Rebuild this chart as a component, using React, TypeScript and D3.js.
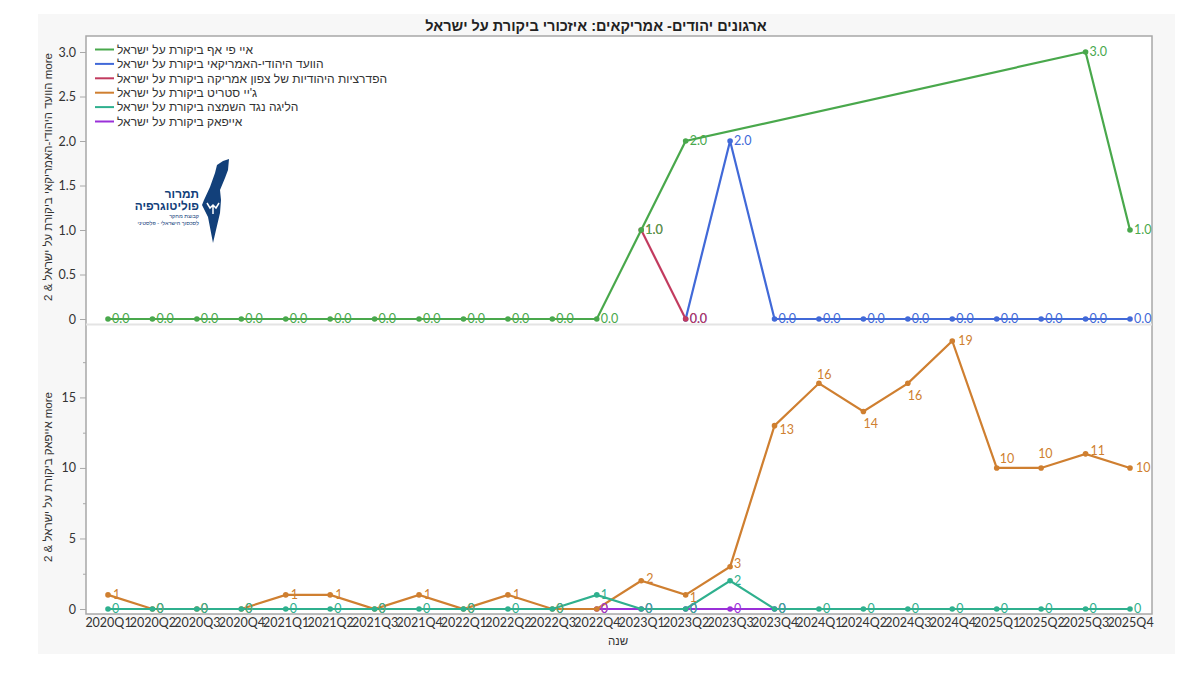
import { useRef, useEffect } from "react";
import * as d3 from "d3";

const quarters = [
  "2020Q1", "2020Q2", "2020Q3", "2020Q4", "2021Q1", "2021Q2", "2021Q3", "2021Q4",
  "2022Q1", "2022Q2", "2022Q3", "2022Q4", "2023Q1", "2023Q2", "2023Q3", "2023Q4",
  "2024Q1", "2024Q2", "2024Q3", "2024Q4", "2025Q1", "2025Q2", "2025Q3", "2025Q4",
];

// null = no value for that quarter
const adlValues = [0, 0, 0, 0, 0, 0, 0, 0, 0, 0, 0, 0, 1, 2, null, null, null, null, null, null, null, null, 3, 1];
const ajcValues = [null, null, null, null, null, null, null, null, null, null, null, null, null, 0, 2, 0, 0, 0, 0, 0, 0, 0, 0, 0];
const jfnaValues = [null, null, null, null, null, null, null, null, null, null, null, null, 1, 0, null, null, null, null, null, null, null, null, null, null];
const jstreetValues = [1, 0, 0, 0, 1, 1, 0, 1, 0, 1, 0, 0, 2, 1, 3, 13, 16, 14, 16, 19, 10, 10, 11, 10];
const leagueValues = [0, 0, 0, 0, 0, 0, 0, 0, 0, 0, 0, 1, 0, 0, 2, 0, 0, 0, 0, 0, 0, 0, 0, 0];
const aipacValues = [null, null, null, null, null, null, null, null, null, null, null, 0, 0, 0, 0, 0, null, null, null, null, null, null, null, null];

const legendNames = [
  "איי פי אף  ביקורת על ישראל",
  "הוועד היהודי-האמריקאי ביקורת על ישראל",
  "הפדרציות היהודיות של צפון אמריקה ביקורת על ישראל",
  "ג'יי סטריט ביקורת על ישראל",
  "הליגה נגד השמצה ביקורת על ישראל",
  "אייפאק ביקורת על ישראל",
];
const legendColors = ["#49a84c", "#4169d8", "#c23b5f", "#cf7f30", "#2fb08e", "#9a30d8"];

const title = "ארגונים יהודים- אמריקאים: איזכורי ביקורת על ישראל";
const upperAxisTitle = "more הוועד היהודי-האמריקאי ביקורת על ישראל & 2";
const lowerAxisTitle = "more אייפאק ביקורת על ישראל & 2";
const xAxisTitle = "שנה";

const upperTicks = [0, 0.5, 1, 1.5, 2, 2.5, 3];
const lowerTicks = [0, 5, 10, 15];
const lowerMinorTicks = [2.5, 7.5, 12.5, 17.5];

const UI_FONT = "Lato, 'Open Sans', 'Liberation Sans', sans-serif";
const HE_FONT = "'Liberation Sans', 'DejaVu Sans', sans-serif";

// label nudges for the J Street peaks, index -> [dx, dy]
const jstreetLabelOffsets: Record<number, [number, number]> = {
  0: [5, 0],
  4: [5, 0],
  5: [5, 0],
  7: [5, 0],
  9: [5, 0],
  12: [5, -2],
  13: [4, 3],
  14: [4, -3],
  15: [5, 4],
  16: [-2, -9],
  17: [0, 12],
  18: [0, 12],
  19: [6, 0],
  20: [3, -9],
  21: [-3, -14],
  22: [5, -3],
  23: [6, 0],
};

type Series = { values: (number | null)[]; color: string; fmt: string };

export default function App() {
  const svgRef = useRef<SVGSVGElement>(null);

  useEffect(() => {
    if (!svgRef.current) return;
    const svg = d3.select(svgRef.current);
    svg.selectAll("*").remove();

    // panel + frame
    svg.append("rect").attr("x", 38).attr("y", 14).attr("width", 1137).attr("height", 640).attr("fill", "#f7f7f7");
    svg.append("rect").attr("x", 86).attr("y", 36).attr("width", 1066).attr("height", 578)
      .attr("fill", "#fff").attr("stroke", "#a8a8a8").attr("stroke-width", 1.5);
    svg.append("line").attr("x1", 86).attr("x2", 1152).attr("y1", 324.5).attr("y2", 324.5)
      .attr("stroke", "#e4e4e4").attr("stroke-width", 2);

    const x = d3.scalePoint<string>().domain(quarters).range([108, 1130]);
    const yUpper = d3.scaleLinear().domain([0, 3]).range([319, 52]);
    const yLower = d3.scaleLinear().domain([0, 19]).range([609, 341]);

    // X axis
    const xAxis = svg.append("g").attr("transform", "translate(0,614)")
      .call(d3.axisBottom(x).tickSize(0).tickPadding(4));
    xAxis.select(".domain").remove();
    xAxis.selectAll("text").attr("fill", "#333").attr("font-size", "12.5px").attr("font-family", UI_FONT);

    // Y axes
    const styleAxis = (g: d3.Selection<SVGGElement, unknown, null, undefined>) => {
      g.select(".domain").remove();
      g.selectAll(".tick line").attr("stroke", "#a8a8a8");
      g.selectAll("text").attr("fill", "#333").attr("font-size", "12.5px").attr("font-family", UI_FONT);
    };
    svg.append("g").attr("transform", "translate(86,0)")
      .call(d3.axisLeft(yUpper).tickValues(upperTicks).tickSize(6).tickPadding(4)
        .tickFormat((d) => (d === 0 ? "0" : d3.format(".1f")(d as number))))
      .call(styleAxis);
    svg.append("g").attr("transform", "translate(86,0)")
      .call(d3.axisLeft(yLower).tickValues(lowerTicks).tickSize(6).tickPadding(4).tickFormat(d3.format("d")))
      .call(styleAxis);
    svg.append("g").attr("transform", "translate(86,0)")
      .call(d3.axisLeft(yLower).tickValues(lowerMinorTicks).tickSize(3).tickFormat(() => ""))
      .call(styleAxis);

    // Axis titles
    const rotated = (text: string, cx: number, cy: number) =>
      svg.append("text")
        .attr("transform", `translate(${cx},${cy}) rotate(-90)`)
        .attr("text-anchor", "middle")
        .attr("direction", "rtl")
        .attr("font-family", HE_FONT)
        .attr("font-size", "11.5px")
        .attr("fill", "#333")
        .text(text);
    rotated(upperAxisTitle, 52, 177);
    rotated(lowerAxisTitle, 52, 477);

    svg.append("text").attr("x", 618).attr("y", 645).attr("text-anchor", "middle").attr("direction", "rtl")
      .attr("font-family", HE_FONT).attr("font-size", "11.5px").attr("fill", "#333").text(xAxisTitle);

    svg.append("text").attr("x", 596).attr("y", 31).attr("text-anchor", "middle").attr("direction", "rtl")
      .attr("font-family", HE_FONT).attr("font-size", "14.5px").attr("font-weight", 700).attr("fill", "#222").text(title);

    const drawLines = (list: Series[], y: d3.ScaleLinear<number, number>) => {
      list.forEach((s) => {
        const pts = s.values
          .map((v, i) => ({ v, q: quarters[i] }))
          .filter((p) => p.v !== null) as { v: number; q: string }[];
        const line = d3.line<{ v: number; q: string }>().x((p) => x(p.q)!).y((p) => y(p.v));
        svg.append("path").attr("d", line(pts)).attr("fill", "none").attr("stroke", s.color).attr("stroke-width", 2.2);
        svg.append("g").selectAll("circle").data(pts).enter().append("circle")
          .attr("cx", (p) => x(p.q)!).attr("cy", (p) => y(p.v)).attr("r", 2.8).attr("fill", s.color);
      });
    };

    const drawLabels = (s: Series, y: d3.ScaleLinear<number, number>, offsets: Record<number, [number, number]> = {}) => {
      s.values.forEach((v, i) => {
        if (v === null) return;
        const off = offsets[i] ?? [4, 0];
        svg.append("text")
          .attr("x", x(quarters[i])! + off[0])
          .attr("y", y(v) + off[1])
          .attr("dy", "0.35em")
          .attr("font-family", UI_FONT)
          .attr("font-size", "12.5px")
          .attr("fill", s.color)
          .text(d3.format(s.fmt)(v));
      });
    };

    // Upper panel
    const adl = { values: adlValues, color: legendColors[0], fmt: ".1f" };
    const ajc = { values: ajcValues, color: legendColors[1], fmt: ".1f" };
    const jfna = { values: jfnaValues, color: legendColors[2], fmt: ".1f" };
    drawLines([ajc, jfna, adl], yUpper);
    drawLabels(ajc, yUpper);
    drawLabels(jfna, yUpper);
    drawLabels(adl, yUpper);

    // Lower panel
    const jstreet = { values: jstreetValues, color: legendColors[3], fmt: "d" };
    const league = { values: leagueValues, color: legendColors[4], fmt: "d" };
    const aipac = { values: aipacValues, color: legendColors[5], fmt: "d" };
    drawLines([aipac, jstreet, league], yLower);
    drawLabels(jstreet, yLower, jstreetLabelOffsets);
    drawLabels(aipac, yLower);
    drawLabels(league, yLower);

    // Legend
    const legend = svg.append("g").selectAll("g").data(legendNames).enter().append("g")
      .attr("transform", (_, i) => `translate(95,${49.5 + i * 14.4})`);
    legend.append("line").attr("x1", 0).attr("x2", 19).attr("y1", 0).attr("y2", 0)
      .attr("stroke", (_, i) => legendColors[i]).attr("stroke-width", 2);
    legend.append("text").attr("x", 22).attr("dy", "0.35em").attr("text-anchor", "end").attr("direction", "rtl")
      .attr("font-family", HE_FONT).attr("font-size", "12px").attr("fill", "#333").text((d) => d);

    // Logo
    const logo = svg.append("g");
    logo.append("path")
      .attr("d", "M229 159 L223 161 L217 165 L215 173 L210 187 L204 200 L202 205 L208 217 L213 243 L216 230 L220 213 L221 200 L220 190 L225 178 L228 170 Z")
      .attr("fill", "#12407a");
    logo.append("path")
      .attr("d", "M207 203 L210 208 L213 205 L216 208 L219 203 M213 205 L213 214")
      .attr("fill", "none").attr("stroke", "#fff").attr("stroke-width", 1.5);
    const logoText = (text: string, ty: number, size: number, weight: number) =>
      logo.append("text").attr("x", 199).attr("y", ty).attr("text-anchor", "start").attr("direction", "rtl")
        .attr("font-family", HE_FONT).attr("font-size", `${size}px`).attr("font-weight", weight)
        .attr("fill", "#12407a").text(text);
    logoText("תמרור", 198, 11.8, 700);
    logoText("פוליטוגרפיה", 210, 11.8, 700);
    logoText("קבוצת מחקר", 218, 5.5, 400);
    logoText("לסכסוך הישראלי - פלסטיני", 225, 5.5, 400);
  }, []);

  return (
    <div style={{ position: "absolute", left: 0, top: 0 }}>
      <svg ref={svgRef} width={1200} height={675} style={{ display: "block", background: "#fff" }} />
    </div>
  );
}
